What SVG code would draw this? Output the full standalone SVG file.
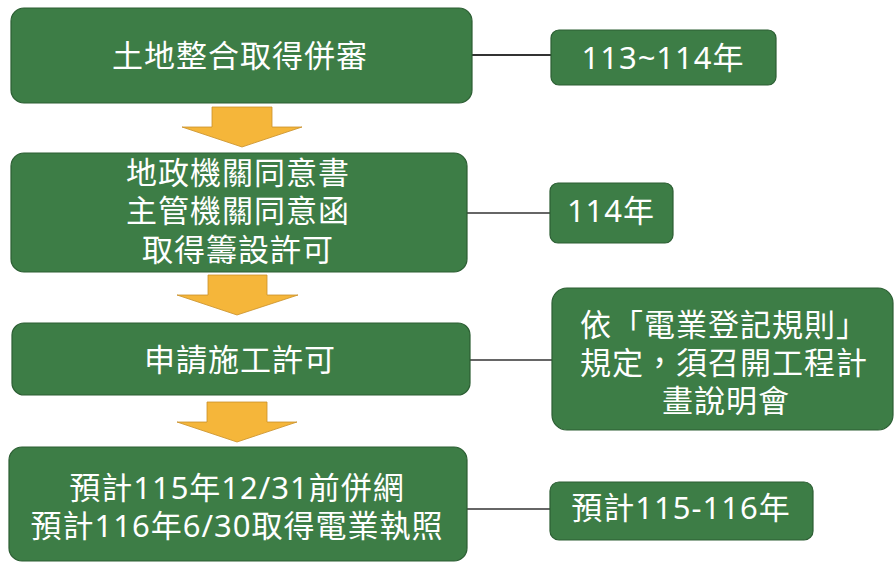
<svg xmlns="http://www.w3.org/2000/svg" width="895" height="562" viewBox="0 0 895 562">
<style>
.box{fill:#3d7d46;stroke:#2c5e33;stroke-width:1.2}
.arr{fill:#f5b63a;stroke:#c9902a;stroke-width:0.8}
.t{fill:#ffffff;font-family:"Noto Sans","Noto Sans CJK TC",sans-serif;font-size:31px;letter-spacing:1px;text-anchor:middle}
.ln{stroke:#666;stroke-width:2;fill:none}
</style>
<rect width="895" height="562" fill="#ffffff"/>
<g id="connectors">
<line class="ln" x1="472" y1="55" x2="551" y2="55" style="stroke:#333"/>
<line class="ln" x1="467" y1="213" x2="550" y2="213"/>
<line class="ln" x1="470" y1="360" x2="552" y2="360"/>
<line class="ln" x1="467" y1="509" x2="550" y2="509"/>
<polygon class="arr" points="212,107 272,107 272,127 302,127 242,147 182,127 212,127"/>
<polygon class="arr" points="208,275 267,275 267,295 298,295 237,315 177,295 208,295"/>
<polygon class="arr" points="207,402 267,402 267,422 297,422 237,442 177,422 207,422"/>
</g>
<g id="n1">
<rect class="box" x="11" y="8" width="461" height="95" rx="13"/>
<text class="t" x="240" y="67">土地整合取得併審</text>
</g>
<g id="n2">
<rect class="box" x="11" y="153" width="456" height="119" rx="13"/>
<text class="t" x="238" y="184">地政機關同意書</text>
<text class="t" x="238" y="222">主管機關同意函</text>
<text class="t" x="238" y="261">取得籌設許可</text>
</g>
<g id="n3">
<rect class="box" x="12" y="323" width="458" height="72" rx="12"/>
<text class="t" x="240" y="371">申請施工許可</text>
</g>
<g id="n4">
<rect class="box" x="9" y="447" width="458" height="114" rx="13"/>
<text class="t" x="237" y="499">預計115年12/31前併網</text>
<text class="t" x="237" y="537">預計116年6/30取得電業執照</text>
</g>
<g id="r1">
<rect class="box" x="551" y="30" width="225" height="55" rx="8"/>
<text class="t" x="663" y="69">113~114年</text>
</g>
<g id="r2">
<rect class="box" x="550" y="183" width="123" height="60" rx="8"/>
<text class="t" x="611" y="222">114年</text>
</g>
<g id="r3">
<rect class="box" x="552" y="288" width="341" height="142" rx="15"/>
<text class="t" x="724" y="336">依「電業登記規則」</text>
<text class="t" x="724" y="374">規定，須召開工程計</text>
<text class="t" x="726" y="412">畫說明會</text>
</g>
<g id="r4">
<rect class="box" x="550" y="482" width="263" height="58" rx="9"/>
<text class="t" x="681" y="519">預計115-116年</text>
</g>
</svg>
